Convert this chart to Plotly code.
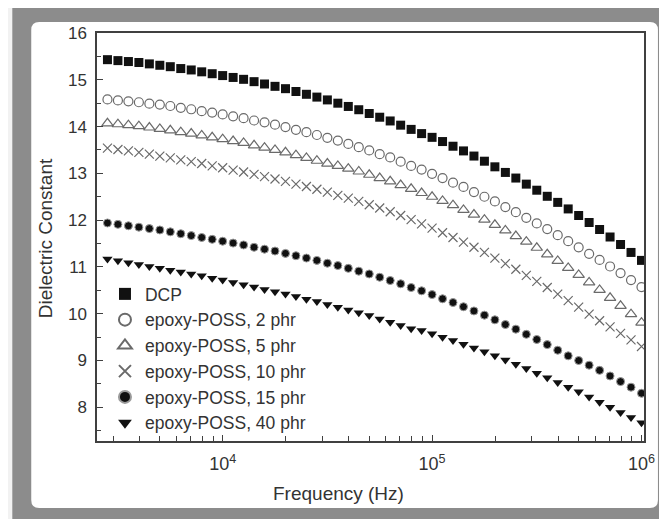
import plotly.graph_objects as go

# ---------------- data ----------------
frequency_hz = [2818, 3162, 3548, 3981, 4467, 5012, 5623, 6310, 7079, 7943, 8913,
                10000, 11220, 12589, 14125, 15849, 17783, 19953, 22387, 25119, 28184,
                31623, 35481, 39811, 44668, 50119, 56234, 63096, 70795, 79433, 89125,
                100000, 112202, 125893, 141254, 158489, 177828, 199526, 223872, 251189,
                281838, 316228, 354813, 398107, 446684, 501187, 562341, 630957, 707946,
                794328, 891251, 1000000]

dcp = [15.43, 15.41, 15.39, 15.37, 15.34, 15.31, 15.28, 15.24, 15.21, 15.17, 15.13,
       15.09, 15.05, 15.01, 14.96, 14.91, 14.86, 14.81, 14.75, 14.69, 14.63,
       14.57, 14.50, 14.43, 14.36, 14.28, 14.20, 14.12, 14.03, 13.94, 13.85,
       13.77, 13.68, 13.58, 13.48, 13.37, 13.26, 13.14, 13.02, 12.90,
       12.77, 12.64, 12.51, 12.38, 12.24, 12.10, 11.95, 11.80, 11.64,
       11.48, 11.31, 11.14]

poss_2 = [14.58, 14.56, 14.54, 14.52, 14.49, 14.47, 14.44, 14.40, 14.37, 14.33, 14.30,
          14.26, 14.22, 14.18, 14.13, 14.09, 14.04, 13.99, 13.93, 13.88, 13.82,
          13.76, 13.70, 13.63, 13.56, 13.49, 13.41, 13.34, 13.25, 13.16, 13.08,
          12.99, 12.90, 12.80, 12.71, 12.60, 12.50, 12.40, 12.28, 12.17,
          12.05, 11.93, 11.81, 11.68, 11.55, 11.42, 11.28, 11.15, 11.01,
          10.87, 10.72, 10.57]

poss_5 = [14.07, 14.05, 14.03, 14.01, 13.98, 13.95, 13.92, 13.88, 13.85, 13.81, 13.77,
          13.73, 13.69, 13.65, 13.60, 13.55, 13.50, 13.45, 13.39, 13.33, 13.27,
          13.21, 13.16, 13.10, 13.04, 12.97, 12.90, 12.83, 12.75, 12.67, 12.58,
          12.50, 12.41, 12.32, 12.22, 12.12, 12.01, 11.90, 11.78, 11.66,
          11.54, 11.41, 11.27, 11.13, 10.98, 10.83, 10.67, 10.51, 10.34,
          10.17, 9.99, 9.81]

poss_10 = [13.54, 13.51, 13.48, 13.45, 13.41, 13.37, 13.33, 13.29, 13.25, 13.21, 13.16,
           13.12, 13.07, 13.03, 12.98, 12.93, 12.88, 12.83, 12.77, 12.72, 12.66,
           12.60, 12.53, 12.47, 12.40, 12.33, 12.26, 12.18, 12.10, 12.01, 11.92,
           11.83, 11.73, 11.63, 11.53, 11.42, 11.31, 11.19, 11.07, 10.95,
           10.82, 10.69, 10.56, 10.42, 10.28, 10.14, 9.99, 9.85, 9.72,
           9.58, 9.44, 9.30]

poss_15 = [11.94, 11.91, 11.88, 11.85, 11.82, 11.79, 11.75, 11.71, 11.67, 11.63, 11.59,
           11.55, 11.51, 11.47, 11.42, 11.38, 11.34, 11.29, 11.24, 11.19, 11.14,
           11.08, 11.03, 10.97, 10.91, 10.85, 10.78, 10.71, 10.64, 10.56, 10.49,
           10.41, 10.32, 10.24, 10.15, 10.06, 9.97, 9.87, 9.77, 9.67,
           9.56, 9.45, 9.34, 9.22, 9.10, 9.00, 8.90, 8.79, 8.67,
           8.55, 8.43, 8.30]

poss_40 = [11.17, 11.13, 11.09, 11.05, 11.01, 10.97, 10.93, 10.89, 10.85, 10.81, 10.76,
           10.72, 10.67, 10.62, 10.57, 10.52, 10.47, 10.42, 10.37, 10.31, 10.26,
           10.20, 10.14, 10.08, 10.02, 9.96, 9.89, 9.82, 9.75, 9.68, 9.64,
           9.57, 9.50, 9.43, 9.35, 9.27, 9.19, 9.10, 9.01, 8.92,
           8.83, 8.73, 8.63, 8.53, 8.43, 8.33, 8.22, 8.11, 8.00,
           7.89, 7.78, 7.67]

series_names = ["DCP", "epoxy-POSS, 2 phr", "epoxy-POSS, 5 phr",
                "epoxy-POSS, 10 phr", "epoxy-POSS, 15 phr", "epoxy-POSS, 40 phr"]
series_values = [dcp, poss_2, poss_5, poss_10, poss_15, poss_40]

x_tick_vals = [1e4, 1e5, 1e6]
x_tick_text = ["10<sup>4</sup>", "10<sup>5</sup>", "10<sup>6</sup>"]
x_minor_vals = [3e3, 4e3, 5e3, 6e3, 7e3, 8e3, 9e3,
                2e4, 3e4, 4e4, 5e4, 6e4, 7e4, 8e4, 9e4,
                2e5, 3e5, 4e5, 5e5, 6e5, 7e5, 8e5, 9e5]
y_tick_vals = [8, 9, 10, 11, 12, 13, 14, 15, 16]
y_minor_vals = [7.5, 8.5, 9.5, 10.5, 11.5, 12.5, 13.5, 14.5, 15.5]

x_title = "Frequency (Hz)"
y_title = "Dielectric Constant"

# ---------------- styles ----------------
marker_styles = [
    dict(symbol="square", size=9, color="#111111", line=dict(width=0)),
    dict(symbol="circle-open", size=9, color="#6a6a6a", line=dict(width=1.2)),
    dict(symbol="triangle-up-open", size=10, color="#6a6a6a", line=dict(width=1.2)),
    dict(symbol="x-thin-open", size=9, color="#6a6a6a", line=dict(width=1.2)),
    dict(symbol="circle", size=8, color="#111111", line=dict(width=1, color="#9a9a9a")),
    dict(symbol="triangle-down", size=9, color="#111111", line=dict(width=0)),
]

fig = go.Figure()
for i, (name, vals) in enumerate(zip(series_names, series_values)):
    fig.add_trace(go.Scatter(
        x=frequency_hz, y=vals, mode="markers", name=name,
        marker=marker_styles[i], legendgroup=str(i),
    ))

# ---------------- layout ----------------
# The page body has an 8 px margin, so the figure is drawn 8 px right/down.
OFF = 8
W, H = 667 - OFF, 519 - OFF
# plot-area edges in page pixels
L, R, T, B = 97, 646, 33, 441


def px_x(p):
    return (p - L) / (R - L)


def px_y(p):
    return (B - p) / (B - T)


def rounded_rect(x0, y0, x1, y1, r):
    return (f"M {px_x(x0 + r)},{px_y(y0)} L {px_x(x1 - r)},{px_y(y0)} "
            f"Q {px_x(x1)},{px_y(y0)} {px_x(x1)},{px_y(y0 + r)} "
            f"L {px_x(x1)},{px_y(y1 - r)} Q {px_x(x1)},{px_y(y1)} {px_x(x1 - r)},{px_y(y1)} "
            f"L {px_x(x0 + r)},{px_y(y1)} Q {px_x(x0)},{px_y(y1)} {px_x(x0)},{px_y(y1 - r)} "
            f"L {px_x(x0)},{px_y(y0 + r)} Q {px_x(x0)},{px_y(y0)} {px_x(x0 + r)},{px_y(y0)} Z")


shapes = [
    dict(type="rect", xref="paper", yref="paper", layer="below",
         x0=px_x(12), x1=px_x(700), y0=px_y(8), y1=px_y(560),
         fillcolor="#8c8c8c", line=dict(width=0)),
    dict(type="path", xref="paper", yref="paper", layer="below",
         path=rounded_rect(31, 22, 660, 508, 8),
         fillcolor="#ffffff", line=dict(width=0)),
]

font_family = "Liberation Sans, Arial, sans-serif"
axis_color = "#404040"
text_color = "#333333"

annotations = [
    dict(text=x_title, xref="paper", yref="paper", x=px_x(339), y=px_y(493),
         xanchor="center", yanchor="middle", showarrow=False,
         font=dict(size=19, color=text_color)),
    dict(text=y_title, xref="paper", yref="paper", x=px_x(45), y=px_y(238),
         xanchor="center", yanchor="middle", showarrow=False, textangle=-90,
         font=dict(size=19, color=text_color)),
]

fig.update_layout(
    width=W, height=H,
    margin=dict(l=L - OFF, r=W - (R - OFF), t=T - OFF, b=H - (B - OFF), pad=0),
    paper_bgcolor="#f2f2f2",
    plot_bgcolor="rgba(0,0,0,0)",
    shapes=shapes,
    annotations=annotations,
    font=dict(family=font_family, color=text_color, size=17),
    showlegend=True,
    legend=dict(
        x=px_x(105), y=px_y(276), xanchor="left", yanchor="top",
        bgcolor="rgba(0,0,0,0)", borderwidth=0,
        font=dict(size=17.5, color=text_color),
        tracegroupgap=0, itemsizing="constant",
    ),
    xaxis=dict(
        type="log", range=[3.4, 6.012],
        tickmode="array", tickvals=x_tick_vals, ticktext=x_tick_text,
        ticks="inside", ticklen=6, tickwidth=1.2, tickcolor=axis_color,
        showline=True, linecolor=axis_color, linewidth=1.5, mirror=True,
        showgrid=False, zeroline=False,
        tickfont=dict(size=18, color=text_color),
        ticklabelstandoff=6,
        minor=dict(tickmode="array", tickvals=x_minor_vals, ticks="inside",
                   ticklen=5, tickwidth=1.2, tickcolor=axis_color, showgrid=False),
    ),
    yaxis=dict(
        range=[7.28, 16],
        tickmode="array", tickvals=y_tick_vals,
        ticks="inside", ticklen=6, tickwidth=1.2, tickcolor=axis_color,
        showline=True, linecolor=axis_color, linewidth=1.5, mirror=True,
        showgrid=False, zeroline=False,
        tickfont=dict(size=17, color=text_color),
        ticklabelstandoff=5,
        minor=dict(tickmode="array", tickvals=y_minor_vals, ticks="inside",
                   ticklen=4, tickwidth=1.2, tickcolor=axis_color, showgrid=False),
    ),
)

fig.write_html("out.html")
